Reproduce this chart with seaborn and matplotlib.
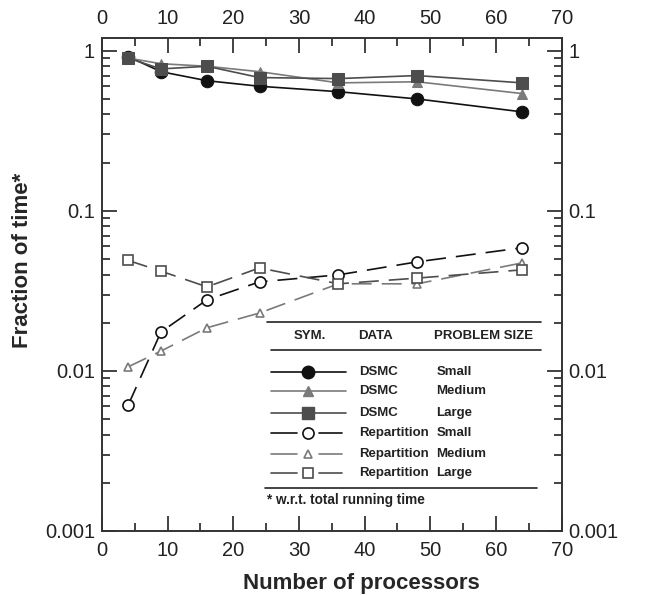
import numpy as np
import pandas as pd
import matplotlib
matplotlib.use("Agg")
import matplotlib.pyplot as plt
from matplotlib.ticker import FuncFormatter, LogLocator, MultipleLocator
import seaborn as sns

sns.set_theme(style="ticks")
plt.rcParams['font.family'] = ['Liberation Sans', 'DejaVu Sans']

processors = [4, 9, 16, 24, 36, 48, 64]
dsmc_small = [0.92, 0.74, 0.65, 0.60, 0.555, 0.50, 0.415]
dsmc_medium = [0.90, 0.83, 0.80, 0.74, 0.63, 0.64, 0.54]
dsmc_large = [0.90, 0.77, 0.80, 0.68, 0.67, 0.70, 0.63]
rep_small = [0.0061, 0.0175, 0.0278, 0.036, 0.0398, 0.048, 0.0588]
rep_medium = [0.0106, 0.0133, 0.0186, 0.023, 0.035, 0.035, 0.0473]
rep_large = [0.049, 0.042, 0.0335, 0.044, 0.035, 0.038, 0.0428]

series_data = ["DSMC", "DSMC", "DSMC", "Repartition", "Repartition", "Repartition"]
series_size = ["Small", "Medium", "Large", "Small", "Medium", "Large"]
series_values = [dsmc_small, dsmc_medium, dsmc_large, rep_small, rep_medium, rep_large]

colors = {"Small": "#111111", "Medium": "#7a7a7a", "Large": "#4d4d4d"}
markers = {"Small": "o", "Medium": "^", "Large": "s"}
msize = {"Small": 9, "Medium": 7, "Large": 8.5}
osize = {"Small": 8, "Medium": 6, "Large": 7}

fig = plt.figure(figsize=(6.57, 5.95), dpi=100)
ax = fig.add_axes([0.155, 0.1076, 0.7, 0.8284])

styles = []
for d, s, vals in zip(series_data, series_size, series_values):
    df = pd.DataFrame({"x": processors, "y": vals})
    c = colors[s]
    if d == "DSMC":
        kw = dict(marker=markers[s], markersize=msize[s], markerfacecolor=c,
                  markeredgecolor=c, linestyle="-", linewidth=1.2)
    else:
        kw = dict(marker=markers[s], markersize=osize[s], markerfacecolor="white",
                  markeredgecolor=c, markeredgewidth=1.2, linestyle=(0, (12, 6)), linewidth=1.2)
    sns.lineplot(data=df, x="x", y="y", ax=ax, color=c, **kw)
    styles.append((d, s, c, kw))

ax.set_yscale("log")
ax.set_xlim(0, 70)
ax.set_ylim(0.001, 1.2)
ax.xaxis.set_major_locator(MultipleLocator(10))
ax.xaxis.set_minor_locator(MultipleLocator(5))
ax.yaxis.set_major_locator(LogLocator(base=10, numticks=10))
ax.yaxis.set_minor_locator(LogLocator(base=10, subs=np.arange(2, 10), numticks=20))
ax.yaxis.set_major_formatter(FuncFormatter(lambda v, p: "%g" % v))
ax.yaxis.set_minor_formatter(FuncFormatter(lambda v, p: ""))
ax.tick_params(which="both", direction="in", top=True, right=True,
               labeltop=True, labelright=True, labelsize=14.5, colors="#222222", width=1.2)
ax.tick_params(which="major", length=11)
ax.tick_params(which="minor", length=6)
ax.tick_params(axis="x", which="major", pad=7)
ax.tick_params(axis="y", which="major", pad=5)
for sp in ax.spines.values():
    sp.set_linewidth(1.4)
    sp.set_color("#333333")

ax.set_xlabel("Number of processors", fontsize=16, fontweight="bold")
ax.set_ylabel("Fraction of time*", fontsize=16, fontweight="bold")
ax.xaxis.set_label_coords(0.565, -0.085)
ax.yaxis.set_label_coords(-0.149, 0.55)

# table-style legend
T = ax.transAxes
lx0, lx1 = 0.36, 0.956
ax.plot([lx0, lx1], [0.424, 0.424], transform=T, color="#222222", lw=1.2, clip_on=False)
ax.plot([0.367, lx1], [0.367, 0.367], transform=T, color="#222222", lw=1.2, clip_on=False)
ax.plot([0.354, 0.946], [0.088, 0.088], transform=T, color="#222222", lw=1.2, clip_on=False)
hy = 0.396
fs = 9.5
ax.text(0.453, hy, "SYM.", transform=T, ha="center", va="center", fontsize=fs, fontweight="bold", color="#222222")
ax.text(0.557, hy, "DATA", transform=T, ha="left", va="center", fontsize=fs, fontweight="bold", color="#222222")
ax.text(0.723, hy, "PROBLEM SIZE", transform=T, ha="left", va="center", fontsize=fs, fontweight="bold", color="#222222")
row_y = [0.323, 0.283, 0.240, 0.198, 0.156, 0.117]
for (d, s, c, kw), ry in zip(styles, row_y):
    mx = 0.449
    if d == "DSMC":
        ax.plot([0.367, 0.530], [ry, ry], transform=T, color=c, lw=1.2)
    else:
        ax.plot([0.367, 0.425], [ry, ry], transform=T, color=c, lw=1.2)
        ax.plot([0.472, 0.522], [ry, ry], transform=T, color=c, lw=1.2)
    mk = {k: v for k, v in kw.items() if k.startswith("marker")}
    ax.plot([mx], [ry], transform=T, color=c, linestyle="none", **mk)
    ax.text(0.559, ry, d, transform=T, ha="left", va="center", fontsize=fs, fontweight="bold", color="#222222")
    ax.text(0.727, ry, s, transform=T, ha="left", va="center", fontsize=fs, fontweight="bold", color="#222222")
ax.text(0.36, 0.062, "* w.r.t. total running time", transform=T, ha="left", va="center",
        fontsize=9.8, fontweight="bold", color="#222222")

fig.savefig("out.png", dpi=100)
